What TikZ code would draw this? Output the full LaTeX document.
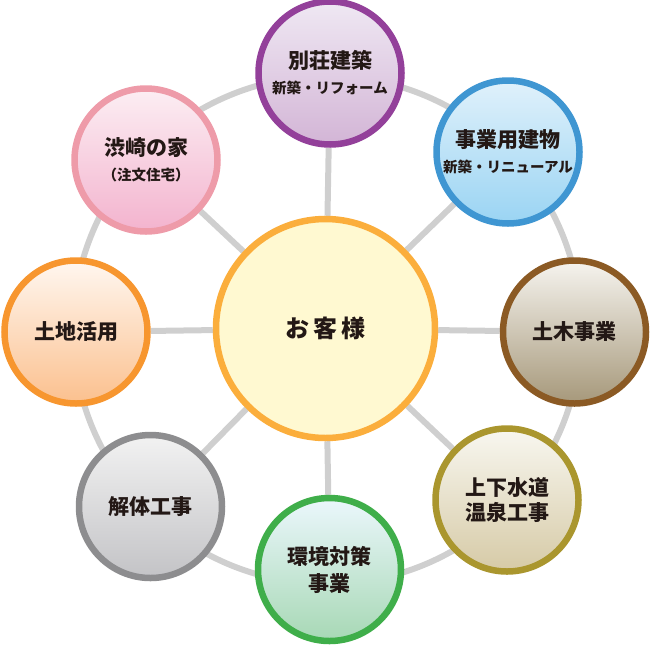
\documentclass[tikz,border=0pt]{standalone}
\usepackage{fontspec}
\setmainfont{Noto Sans CJK JP}
\usepackage{tikz}
\usetikzlibrary{backgrounds}
\definecolor{ringgray}{HTML}{CFCFCF}
\definecolor{textdark}{HTML}{231815}
\definecolor{kyakuline}{HTML}{FBAE3C}
\definecolor{kyakufill}{HTML}{FFF9D1}
\definecolor{bessouline}{HTML}{93409A}
\definecolor{bessoutop}{HTML}{EFE8F3}
\definecolor{bessoubot}{HTML}{D3B5D6}
\definecolor{jigyouline}{HTML}{3F96D2}
\definecolor{jigyoutop}{HTML}{E0F1FB}
\definecolor{jigyoubot}{HTML}{9AD4F3}
\definecolor{dobokuline}{HTML}{8B5A24}
\definecolor{dobokutop}{HTML}{F6F4EF}
\definecolor{dobokubot}{HTML}{A6987A}
\definecolor{gesuiline}{HTML}{AA962E}
\definecolor{gesuitop}{HTML}{F8F7F0}
\definecolor{gesuibot}{HTML}{D6CAA6}
\definecolor{kankyouline}{HTML}{3FAE4A}
\definecolor{kankyoutop}{HTML}{EBF7FC}
\definecolor{kankyoubot}{HTML}{A7D8B5}
\definecolor{kaitailine}{HTML}{8D8D8F}
\definecolor{kaitaitop}{HTML}{F2F2F2}
\definecolor{kaitaibot}{HTML}{C3C3C6}
\definecolor{tochiline}{HTML}{F7962F}
\definecolor{tochitop}{HTML}{FFF7F0}
\definecolor{tochibot}{HTML}{FBC08E}
\definecolor{ieline}{HTML}{EE9BA9}
\definecolor{ietop}{HTML}{FCEEF3}
\definecolor{iebot}{HTML}{F3B3CE}
\def\subtext#1{{\fontsize{14.5}{17}\selectfont #1}}
\tikzset{
  bubble/.style={circle, minimum size=143pt, line width=6.5pt, inner sep=0pt,
    align=center, text=textdark, font=\fontsize{21}{25}\selectfont\bfseries},
  spoke/.style={draw=ringgray, line width=6pt},
}

\begin{document}
\begin{tikzpicture}[x=1pt,y=-1pt]
\useasboundingbox (0,0) rectangle (650,646);
\coordinate (ringc) at (327,330);
% center
\node[bubble, minimum size=219pt, draw=kyakuline, fill=kyakufill,
  font=\fontsize{24}{28}\selectfont\bfseries] (kyaku) at (325.5,328.5) {お\kern4pt 客\kern4pt 様};
% outer ring
\node[bubble, draw=bessouline, top color=bessoutop, bottom color=bessoubot] (bessou) at (330,73)
  {別荘建築\\\subtext{新築・リフォーム}};
\node[bubble, draw=jigyouline, top color=jigyoutop, bottom color=jigyoubot] (jigyou) at (508,152)
  {事業用建物\\\subtext{新築・リニューアル}};
\node[bubble, draw=dobokuline, top color=dobokutop, bottom color=dobokubot] (doboku) at (574.5,332)
  {土木事業};
\node[bubble, draw=gesuiline, top color=gesuitop, bottom color=gesuibot] (gesui) at (507,500)
  {上下水道\\温泉工事};
\node[bubble, draw=kankyouline, top color=kankyoutop, bottom color=kankyoubot,
  font=\fontsize{21}{27}\selectfont\bfseries] (kankyou) at (329.5,569.5)
  {環境対策\\事業};
\node[bubble, draw=kaitailine, top color=kaitaitop, bottom color=kaitaibot] (kaitai) at (150.5,506.5)
  {解体工事};
\node[bubble, draw=tochiline, top color=tochitop, bottom color=tochibot] (tochi) at (76,332)
  {土地活用};
\node[bubble, draw=ieline, top color=ietop, bottom color=iebot] (ie) at (146,160)
  {渋崎の家\\\subtext{（注文住宅）}};
\begin{scope}[on background layer]
\draw[spoke] (ringc) circle[radius=254];
\draw[spoke] (kyaku) -- (bessou);
\draw[spoke] (kyaku) -- (jigyou);
\draw[spoke] (kyaku) -- (doboku);
\draw[spoke] (kyaku) -- (gesui);
\draw[spoke] (kyaku) -- (kankyou);
\draw[spoke] (kyaku) -- (kaitai);
\draw[spoke] (kyaku) -- (tochi);
\draw[spoke] (kyaku) -- (ie);
\end{scope}
\end{tikzpicture}
\end{document}
